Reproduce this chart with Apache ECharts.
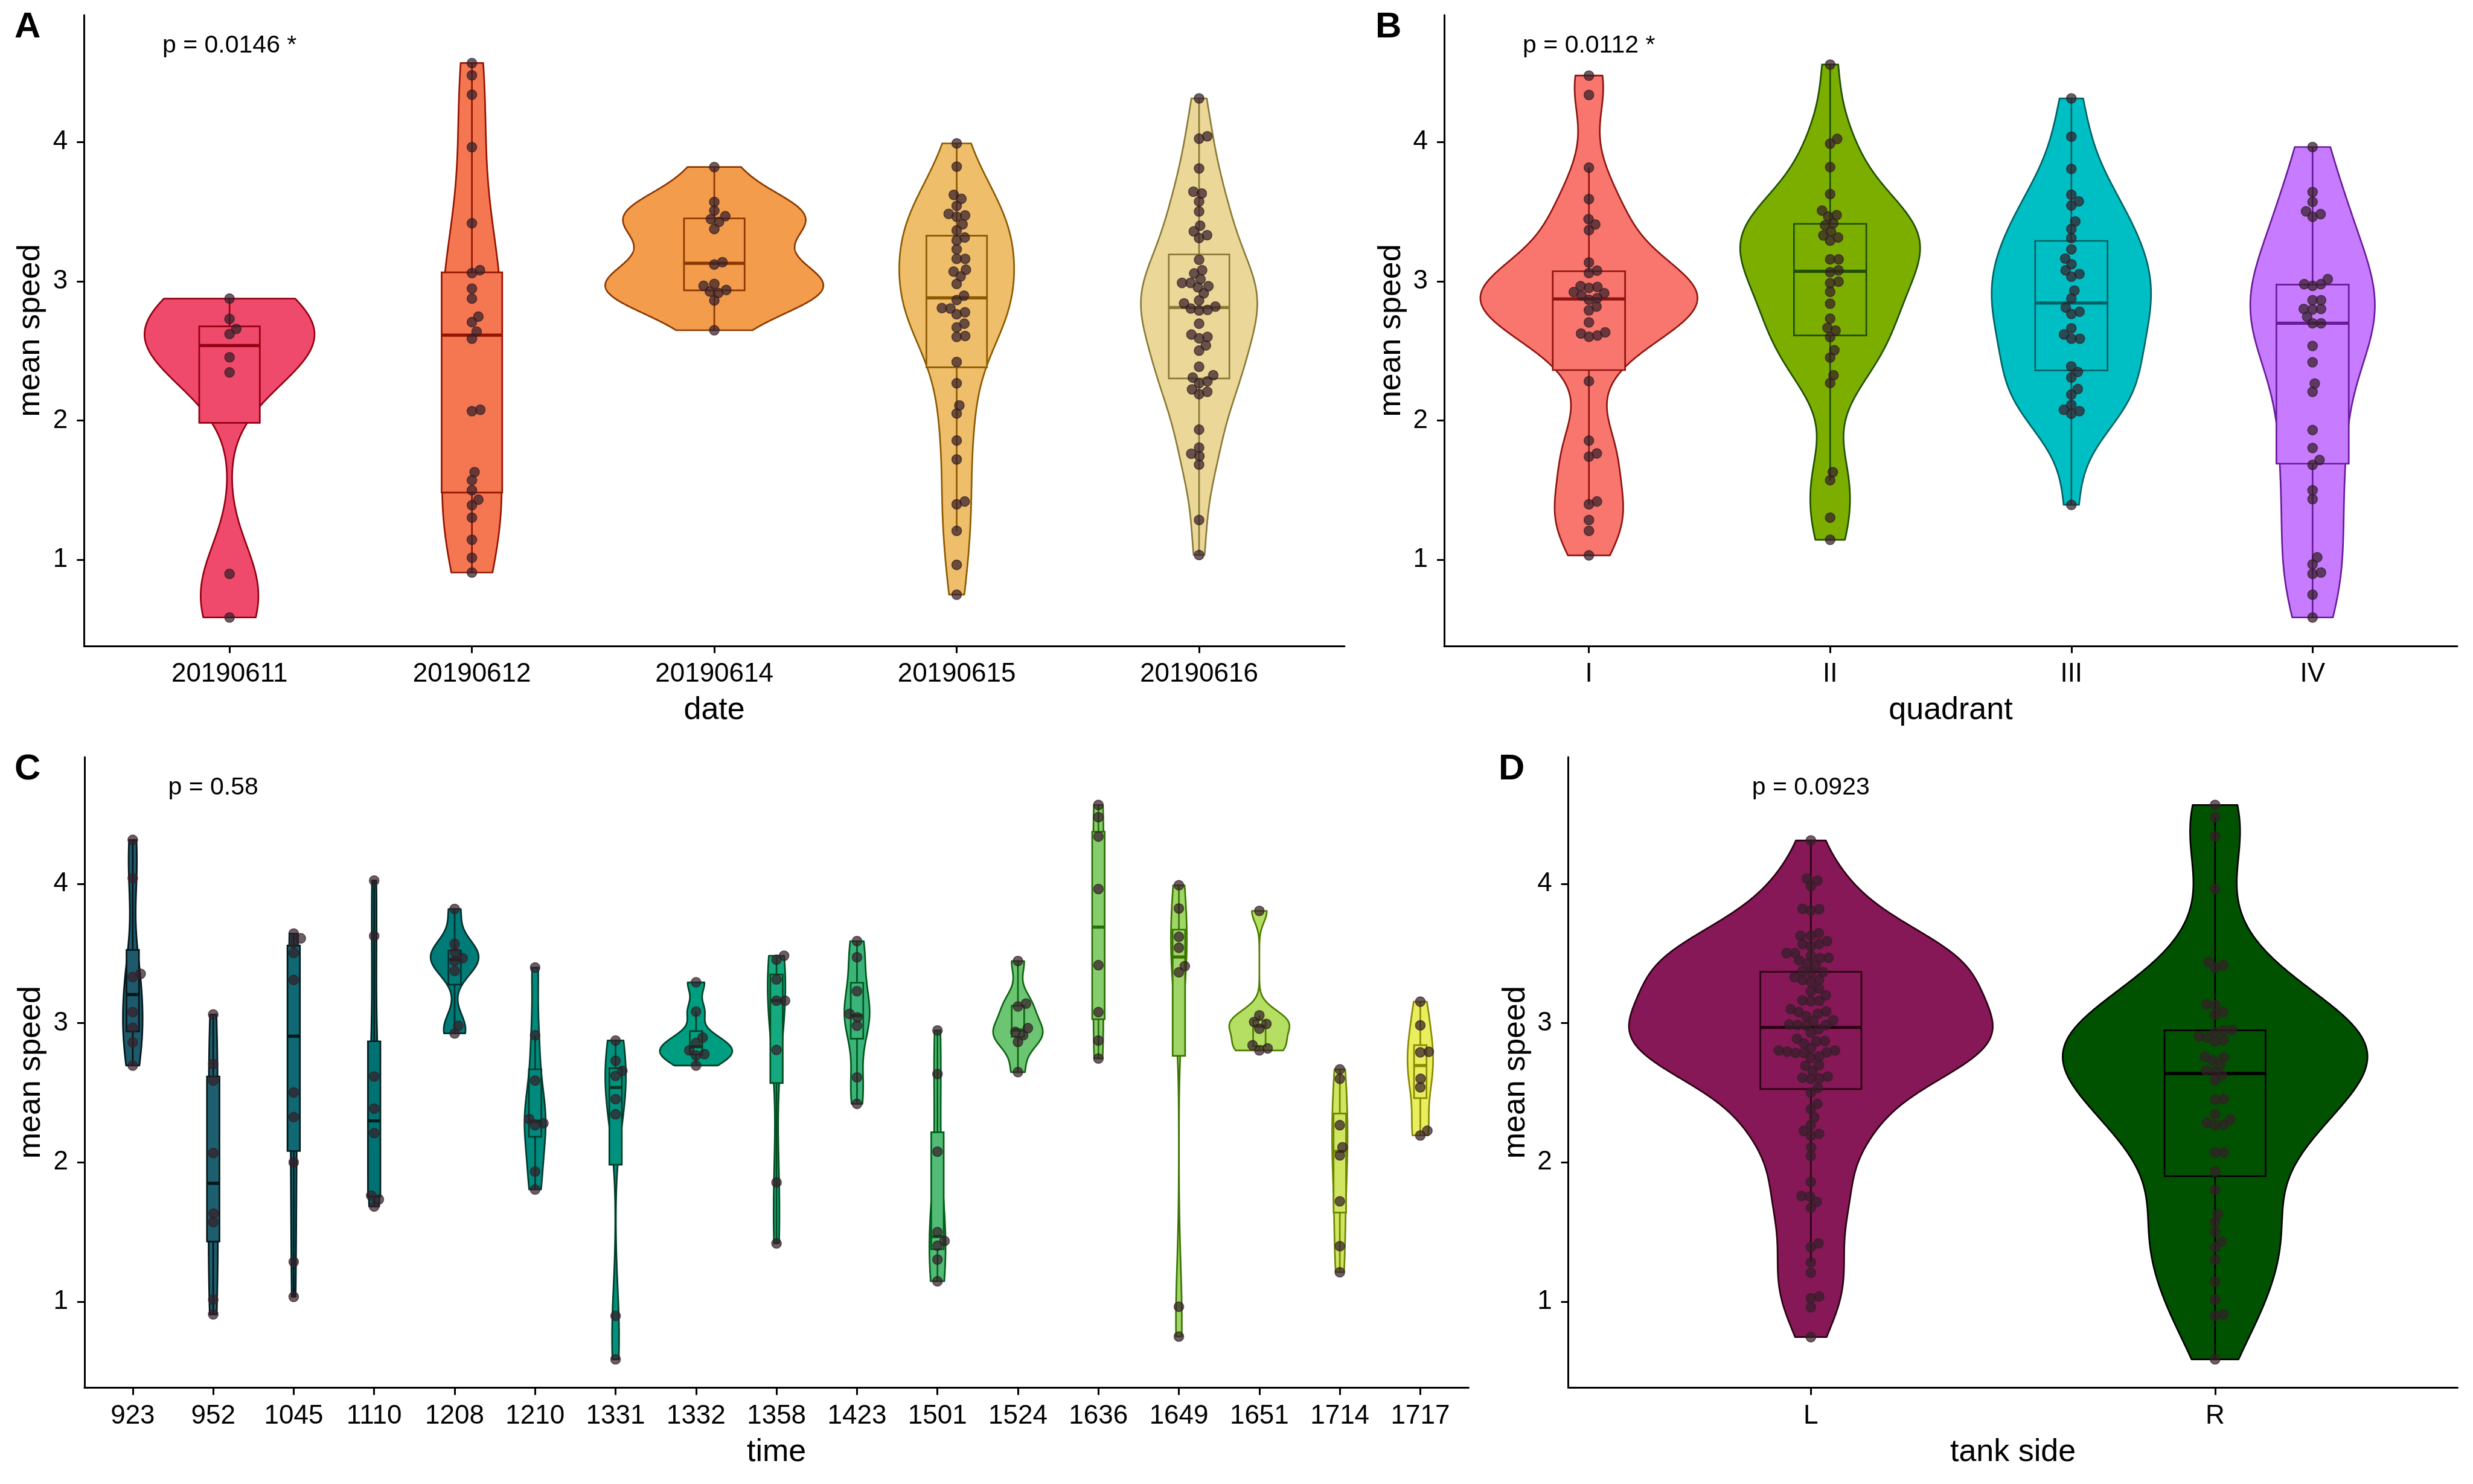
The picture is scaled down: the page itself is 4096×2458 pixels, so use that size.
<!DOCTYPE html>
<html><head><meta charset="utf-8">
<script src="https://cdn.jsdelivr.net/npm/echarts@6/dist/echarts.min.js"></script>
<style>html,body{margin:0;padding:0;background:#fff}#c{width:4096px;height:2458px}</style>
</head><body><div id="c"></div>
<script>
// ================= DATA =================
const yTickValues = [1, 2, 3, 4];

// Panel A : date
const dateCategories = ['20190611', '20190612', '20190614', '20190615', '20190616'];
const speed_20190611 = [2.875, 2.729, 2.658, 2.621, 2.454, 2.345, 0.898, 0.585];
const speed_20190612 = [4.567, 4.479, 4.340, 3.963, 3.416, 3.079, 3.059, 2.947, 2.875, 2.746, 2.706, 2.638, 2.587, 2.077, 2.067, 1.629, 1.571, 1.499, 1.431, 1.391, 1.302, 1.143, 1.014, 0.908];
const speed_20190614 = [3.820, 3.569, 3.507, 3.467, 3.446, 3.426, 3.375, 3.137, 3.120, 2.981, 2.967, 2.937, 2.926, 2.916, 2.862, 2.648];
const speed_20190615 = [3.990, 3.823, 3.620, 3.592, 3.541, 3.484, 3.473, 3.463, 3.409, 3.365, 3.314, 3.293, 3.229, 3.161, 3.161, 3.083, 3.069, 3.035, 2.981, 2.896, 2.865, 2.807, 2.804, 2.777, 2.763, 2.695, 2.668, 2.607, 2.600, 2.420, 2.267, 2.108, 2.050, 1.856, 1.720, 1.418, 1.398, 1.207, 0.963, 0.749];
const speed_20190616 = [4.313, 4.041, 4.024, 3.810, 3.643, 3.630, 3.572, 3.501, 3.399, 3.358, 3.331, 3.310, 3.154, 3.079, 3.056, 3.015, 2.988, 2.988, 2.964, 2.957, 2.913, 2.862, 2.841, 2.818, 2.804, 2.794, 2.790, 2.695, 2.617, 2.600, 2.590, 2.539, 2.502, 2.386, 2.325, 2.308, 2.281, 2.267, 2.223, 2.206, 2.189, 1.934, 1.805, 1.761, 1.744, 1.683, 1.285, 1.034];

// Panel B : quadrant
const quadrantCategories = ['I', 'II', 'III', 'IV'];
const speed_I = [4.477, 4.338, 3.816, 3.590, 3.446, 3.408, 3.367, 3.135, 3.076, 3.059, 2.965, 2.959, 2.952, 2.922, 2.914, 2.897, 2.879, 2.867, 2.818, 2.791, 2.704, 2.633, 2.624, 2.610, 2.601, 2.282, 1.855, 1.763, 1.740, 1.418, 1.398, 1.285, 1.207, 1.031];
const speed_II = [4.556, 4.022, 3.988, 3.820, 3.626, 3.507, 3.475, 3.465, 3.416, 3.401, 3.357, 3.329, 3.314, 3.292, 3.157, 3.157, 3.078, 3.065, 2.997, 2.986, 2.924, 2.839, 2.731, 2.665, 2.646, 2.599, 2.505, 2.452, 2.325, 2.269, 1.629, 1.571, 1.302, 1.143];
const speed_III = [4.313, 4.039, 3.807, 3.621, 3.574, 3.544, 3.429, 3.375, 3.310, 3.229, 3.163, 3.122, 3.078, 3.052, 3.033, 2.933, 2.876, 2.811, 2.781, 2.765, 2.662, 2.618, 2.587, 2.587, 2.388, 2.349, 2.309, 2.226, 2.186, 2.111, 2.077, 2.067, 2.048, 1.394];
const speed_IV = [3.964, 3.641, 3.570, 3.502, 3.482, 3.463, 3.015, 2.979, 2.979, 2.967, 2.864, 2.864, 2.801, 2.801, 2.797, 2.745, 2.698, 2.698, 2.535, 2.418, 2.265, 2.206, 1.931, 1.802, 1.716, 1.681, 1.499, 1.435, 1.017, 0.966, 0.908, 0.898, 0.749, 0.585];

// Panel C : time
const timeCategories = ['923', '952', '1045', '1110', '1208', '1210', '1331', '1332', '1358', '1423', '1501', '1524', '1636', '1649', '1651', '1714', '1717'];
const speed_t923 = [4.316, 4.041, 3.354, 3.331, 3.079, 2.967, 2.862, 2.695];
const speed_t952 = [3.062, 2.706, 2.587, 2.067, 1.632, 1.571, 1.014, 0.908];
const speed_t1045 = [3.643, 3.609, 3.575, 3.504, 3.310, 2.502, 2.325, 2.000, 1.285, 1.034];
const speed_t1110 = [4.024, 3.626, 2.617, 2.386, 2.210, 1.761, 1.734, 1.683];
const speed_t1208 = [3.820, 3.569, 3.507, 3.467, 3.446, 3.375, 2.981, 2.926];
const speed_t1210 = [3.399, 2.913, 2.587, 2.311, 2.281, 2.267, 1.934, 1.805];
const speed_t1331 = [2.875, 2.729, 2.658, 2.621, 2.454, 2.345, 0.898, 0.585];
const speed_t1332 = [3.293, 3.083, 2.896, 2.858, 2.804, 2.777, 2.767, 2.695];
const speed_t1358 = [3.484, 3.456, 3.314, 3.161, 3.161, 2.807, 1.856, 1.418];
const speed_t1423 = [3.589, 3.473, 3.229, 3.066, 3.042, 2.981, 2.610, 2.420];
const speed_t1501 = [2.947, 2.634, 2.077, 1.499, 1.435, 1.401, 1.302, 1.146];
const speed_t1524 = [3.446, 3.140, 3.120, 2.964, 2.937, 2.913, 2.865, 2.648];
const speed_t1636 = [4.567, 4.479, 4.340, 3.963, 3.416, 3.079, 2.875, 2.746];
const speed_t1649 = [3.990, 3.823, 3.620, 3.541, 3.409, 3.365, 0.963, 0.749];
const speed_t1651 = [3.806, 3.056, 3.008, 2.994, 2.960, 2.841, 2.818, 2.804];
const speed_t1714 = [2.668, 2.600, 2.267, 2.108, 2.050, 1.720, 1.398, 1.211];
const speed_t1717 = [3.154, 2.984, 2.794, 2.790, 2.600, 2.539, 2.227, 2.193];

// Panel D : tank side
const sideCategories = ['L', 'R'];
const speed_L = [4.312, 4.038, 4.023, 3.984, 3.821, 3.818, 3.809, 3.646, 3.627, 3.627, 3.588, 3.568, 3.568, 3.551, 3.503, 3.503, 3.483, 3.469, 3.466, 3.450, 3.428, 3.415, 3.372, 3.367, 3.364, 3.330, 3.313, 3.310, 3.296, 3.250, 3.228, 3.200, 3.163, 3.160, 3.157, 3.100, 3.084, 3.079, 3.067, 3.050, 3.020, 3.016, 2.990, 2.987, 2.987, 2.982, 2.956, 2.931, 2.888, 2.871, 2.868, 2.854, 2.820, 2.803, 2.803, 2.795, 2.790, 2.786, 2.786, 2.761, 2.750, 2.698, 2.693, 2.659, 2.616, 2.608, 2.603, 2.599, 2.535, 2.501, 2.421, 2.382, 2.324, 2.268, 2.226, 2.205, 2.192, 2.107, 2.046, 1.860, 1.758, 1.754, 1.717, 1.673, 1.418, 1.391, 1.282, 1.207, 1.037, 1.024, 0.959, 0.745];
const speed_R = [4.567, 4.479, 4.340, 3.963, 3.439, 3.416, 3.399, 3.134, 3.130, 3.079, 3.059, 2.950, 2.947, 2.933, 2.905, 2.896, 2.879, 2.869, 2.757, 2.753, 2.733, 2.699, 2.661, 2.651, 2.624, 2.590, 2.455, 2.451, 2.345, 2.308, 2.284, 2.270, 2.267, 2.070, 2.070, 1.934, 1.802, 1.629, 1.571, 1.499, 1.431, 1.391, 1.302, 1.143, 1.014, 0.908, 0.898, 0.585];

// p-value annotations
const pLabels = ['p = 0.0146 *', 'p = 0.0112 *', 'p = 0.58', 'p = 0.0923'];
const pLabelCategory = [1, 1, 2, 1];
const pLabelValue = 4.69;

// ================= STYLE =================
const FONT = '"Liberation Sans", Arial, Helvetica, sans-serif';
const Y_MIN = 0.381, Y_MAX = 4.911;
const POINT_SIZE = 16;
const LINE_W = 2.7;
const dateFills = ['#EF4A6B', '#F47752', '#F29C4C', '#EFBE6B', '#EBD898'];
const dateStrokes = ['#940012', '#951400', '#8C3700', '#8C5A00', '#8A7A38'];
const quadFills = ['#F8766D', '#7CAE00', '#00BFC4', '#C77CFF'];
const quadStrokes = ['#8E1410', '#1F4F00', '#006265', '#6A1B9A'];
const timeFills = ['#1E5A6B', '#1D5F6E', '#0F6873', '#007274', '#007B77', '#008A7E', '#00927F', '#009E81', '#15A97F', '#3AB47B', '#52BC77', '#6CC572', '#86CD6C', '#9ED667', '#B5DF62', '#D0E660', '#E9EE5F'];
const timeStrokes = ['#061519', '#061519', '#02181A', '#031C1C', '#00302E', '#003A2C', '#003D28', '#003F24', '#004A1E', '#00561A', '#005E18', '#0F6410', '#2A6E08', '#3A7400', '#4E7D00', '#6E8500', '#8A8A00'];
const sideFills = ['#861857', '#005200'];
const sideStrokes = ['#2B0012', '#000000'];

const panels = [
  { cats: dateCategories, groups: [speed_20190611, speed_20190612, speed_20190614, speed_20190615, speed_20190616],
    fills: dateFills, strokes: dateStrokes, boxWidth: 0.25, xName: 'date', letter: 'A', letterX: 24, letterY: 45,
    grid: { left: 139.3, top: 25.1, width: 2087.6, height: 1044.7 } },
  { cats: quadrantCategories, groups: [speed_I, speed_II, speed_III, speed_IV],
    fills: quadFills, strokes: quadStrokes, boxWidth: 0.30, xName: 'quadrant', letter: 'B', letterX: 2278, letterY: 45,
    grid: { left: 2392.0, top: 25.1, width: 1678.0, height: 1044.7 } },
  { cats: timeCategories, groups: [speed_t923, speed_t952, speed_t1045, speed_t1110, speed_t1208, speed_t1210, speed_t1331, speed_t1332, speed_t1358, speed_t1423, speed_t1501, speed_t1524, speed_t1636, speed_t1649, speed_t1651, speed_t1714, speed_t1717],
    fills: timeFills, strokes: timeStrokes, boxWidth: 0.155, xName: 'time', letter: 'C', letterX: 24, letterY: 1274,
    grid: { left: 139.9, top: 1253.9, width: 2292.5, height: 1044.7 } },
  { cats: sideCategories, groups: [speed_L, speed_R],
    fills: sideFills, strokes: sideStrokes, boxWidth: 0.25, xName: 'tank side', letter: 'D', letterX: 2482, letterY: 1274,
    grid: { left: 2597.6, top: 1253.9, width: 1472.9, height: 1044.7 } }
];

// ================= STATS =================
function q7(s, p) { const h = (s.length - 1) * p, lo = Math.floor(h), hi = Math.ceil(h); return s[lo] + (h - lo) * (s[hi] - s[lo]); }
function bwNrd0(x) {
  const n = x.length, s = [...x].sort((a, b) => a - b);
  const m = x.reduce((a, b) => a + b, 0) / n;
  const sd = Math.sqrt(x.reduce((a, b) => a + (b - m) * (b - m), 0) / (n - 1));
  let lo = Math.min(sd, (q7(s, 0.75) - q7(s, 0.25)) / 1.34);
  if (!(lo > 0)) lo = sd || Math.abs(s[0]) || 1;
  return 0.9 * lo * Math.pow(n, -0.2);
}
function kde(x) {
  const bw = bwNrd0(x), n = x.length;
  const mn = Math.min(...x), mx = Math.max(...x);
  const ys = [], ds = [];
  for (let k = 0; k < 512; k++) {
    const y = mn + (mx - mn) * k / 511;
    let d = 0;
    for (const v of x) { const u = (y - v) / bw; d += Math.exp(-0.5 * u * u); }
    ys.push(y); ds.push(d / (n * bw * Math.sqrt(2 * Math.PI)));
  }
  return { ys, ds };
}
function boxStats(x) {
  const s = [...x].sort((a, b) => a - b);
  const q1 = q7(s, 0.25), med = q7(s, 0.5), q3 = q7(s, 0.75), iqr = q3 - q1;
  let hi = Math.max(...s.filter(v => v <= q3 + 1.5 * iqr)); if (hi < q3) hi = q3;
  let lo = Math.min(...s.filter(v => v >= q1 - 1.5 * iqr)); if (lo > q1) lo = q1;
  return [lo, q1, med, q3, hi];
}
function swarm(vals, pxX, pxY, D) {
  const order = vals.map((v, i) => i).sort((a, b) => vals[a] - vals[b]);
  const placed = [], offs = new Array(vals.length).fill(0);
  for (const i of order) {
    const y = vals[i] * pxY;
    const near = placed.filter(p => Math.abs(p.y - y) < D);
    const cands = [0];
    near.forEach(p => { const dx = Math.sqrt(D * D - (p.y - y) * (p.y - y)); cands.push(p.x + dx, p.x - dx); });
    cands.sort((a, b) => (Math.abs(a) - Math.abs(b)) || (b - a));
    let best = 0;
    for (const c of cands) {
      if (near.every(p => (p.x - c) * (p.x - c) + (p.y - y) * (p.y - y) >= D * D - 1e-6)) { best = c; break; }
    }
    placed.push({ x: best, y }); offs[i] = best / pxX;
  }
  return offs;
}

// ================= BUILD =================
const grids = [], xAxes = [], yAxes = [], series = [], graphics = [];
panels.forEach((p, pi) => {
  const n = p.cats.length;
  grids.push(Object.assign({ containLabel: false }, p.grid));
  const ticks = p.cats.map((c, k) => k + 1);
  xAxes.push({
    type: 'value', gridIndex: pi, min: 0.4, max: n + 0.6,
    name: p.xName, nameLocation: 'middle', nameGap: 81,
    nameTextStyle: { fontSize: 52, fontFamily: FONT, color: '#000' },
    axisLine: { show: true, onZero: false, lineStyle: { color: '#000', width: 3 } },
    axisTick: { show: true, length: 12, customValues: ticks, lineStyle: { color: '#000', width: 3 } },
    axisLabel: { customValues: ticks, formatter: v => p.cats[Math.round(v) - 1], fontSize: 44, fontFamily: FONT, color: '#000', margin: 25 },
    splitLine: { show: false }
  });
  yAxes.push({
    type: 'value', gridIndex: pi, min: Y_MIN, max: Y_MAX,
    name: 'mean speed', nameLocation: 'middle', nameGap: 61, nameRotate: 90,
    nameTextStyle: { fontSize: 52, fontFamily: FONT, color: '#000' },
    axisLine: { show: true, onZero: false, lineStyle: { color: '#000', width: 3 } },
    axisTick: { show: true, length: 12, customValues: yTickValues, lineStyle: { color: '#000', width: 3 } },
    axisLabel: { customValues: yTickValues, fontSize: 44, fontFamily: FONT, color: '#000', margin: 27 },
    splitLine: { show: false }
  });

  // violins (gaussian KDE, nrd0 bandwidth, trimmed, area-scaled per panel)
  const dens = p.groups.map(g => kde(g));
  const gmax = Math.max(...dens.map(d => Math.max(...d.ds)));
  const shapes = dens.map((d, k) => {
    const pts = [];
    for (let j = 0; j < d.ys.length; j++) pts.push([k + 1 - 0.45 * d.ds[j] / gmax, d.ys[j]]);
    for (let j = d.ys.length - 1; j >= 0; j--) pts.push([k + 1 + 0.45 * d.ds[j] / gmax, d.ys[j]]);
    return pts;
  });
  const stats = p.groups.map(g => boxStats(g));

  series.push({
    type: 'custom', xAxisIndex: pi, yAxisIndex: pi, z: 2, silent: true,
    data: stats.map((s, k) => [k + 1, s[2]]),
    renderItem: (params, api) => {
      const k = params.dataIndex;
      return { type: 'polygon', shape: { points: shapes[k].map(pt => api.coord(pt)) },
        style: { fill: p.fills[k], stroke: p.strokes[k], lineWidth: LINE_W, lineJoin: 'round' } };
    }
  });
  series.push({
    type: 'custom', xAxisIndex: pi, yAxisIndex: pi, z: 3, silent: true,
    data: stats.map((s, k) => [k + 1, s[2]]),
    renderItem: (params, api) => {
      const k = params.dataIndex, s = stats[k], x = k + 1, hw = p.boxWidth / 2;
      const c = p.strokes[k];
      const pLo = api.coord([x, s[0]]), pQ1 = api.coord([x, s[1]]), pQ3 = api.coord([x, s[3]]), pHi = api.coord([x, s[4]]);
      const tl = api.coord([x - hw, s[3]]), br = api.coord([x + hw, s[1]]);
      const mL = api.coord([x - hw, s[2]]), mR = api.coord([x + hw, s[2]]);
      return { type: 'group', children: [
        { type: 'line', shape: { x1: pQ3[0], y1: pQ3[1], x2: pHi[0], y2: pHi[1] }, style: { stroke: c, lineWidth: LINE_W } },
        { type: 'line', shape: { x1: pQ1[0], y1: pQ1[1], x2: pLo[0], y2: pLo[1] }, style: { stroke: c, lineWidth: LINE_W } },
        { type: 'rect', shape: { x: tl[0], y: tl[1], width: br[0] - tl[0], height: br[1] - tl[1] }, style: { fill: p.fills[k], stroke: c, lineWidth: LINE_W } },
        { type: 'line', shape: { x1: mL[0], y1: mL[1], x2: mR[0], y2: mR[1] }, style: { stroke: c, lineWidth: 5.2 } }
      ] };
    }
  });

  // points (beeswarm-style dodge computed from the values)
  const pxX = p.grid.width / (n + 0.2), pxY = p.grid.height / (Y_MAX - Y_MIN);
  const pts = [];
  p.groups.forEach((g, k) => {
    const offs = swarm(g, pxX, pxY, POINT_SIZE * 0.88);
    g.forEach((v, j) => pts.push([k + 1 + offs[j], v]));
  });
  series.push({
    type: 'scatter', xAxisIndex: pi, yAxisIndex: pi, z: 4, silent: true,
    symbol: 'circle', symbolSize: POINT_SIZE, data: pts,
    itemStyle: { color: 'rgba(52,30,40,0.72)', borderColor: 'rgba(52,30,40,0.72)', borderWidth: 1.6, opacity: 1 }
  });

  // p-value text
  series.push({
    type: 'custom', xAxisIndex: pi, yAxisIndex: pi, z: 5, silent: true,
    data: [[pLabelCategory[pi], pLabelValue]],
    renderItem: (params, api) => {
      const c = api.coord([api.value(0), api.value(1)]);
      return { type: 'text', style: { text: pLabels[pi], x: c[0], y: c[1], textAlign: 'center', textVerticalAlign: 'middle', align: 'center', verticalAlign: 'middle', font: '41px ' + FONT, fill: '#000' } };
    }
  });

  graphics.push({ type: 'text', style: { text: p.letter, x: p.letterX, y: p.letterY, font: 'bold 60px ' + FONT, fill: '#000', textAlign: 'left', textVerticalAlign: 'middle', align: 'left', verticalAlign: 'middle' } });
});

const chart = echarts.init(document.getElementById('c'), null, { renderer: 'canvas', width: 4096, height: 2458 });
chart.setOption({
  backgroundColor: '#ffffff', animation: false,
  grid: grids, xAxis: xAxes, yAxis: yAxes, series: series, graphic: graphics
});
</script>
</body></html>
